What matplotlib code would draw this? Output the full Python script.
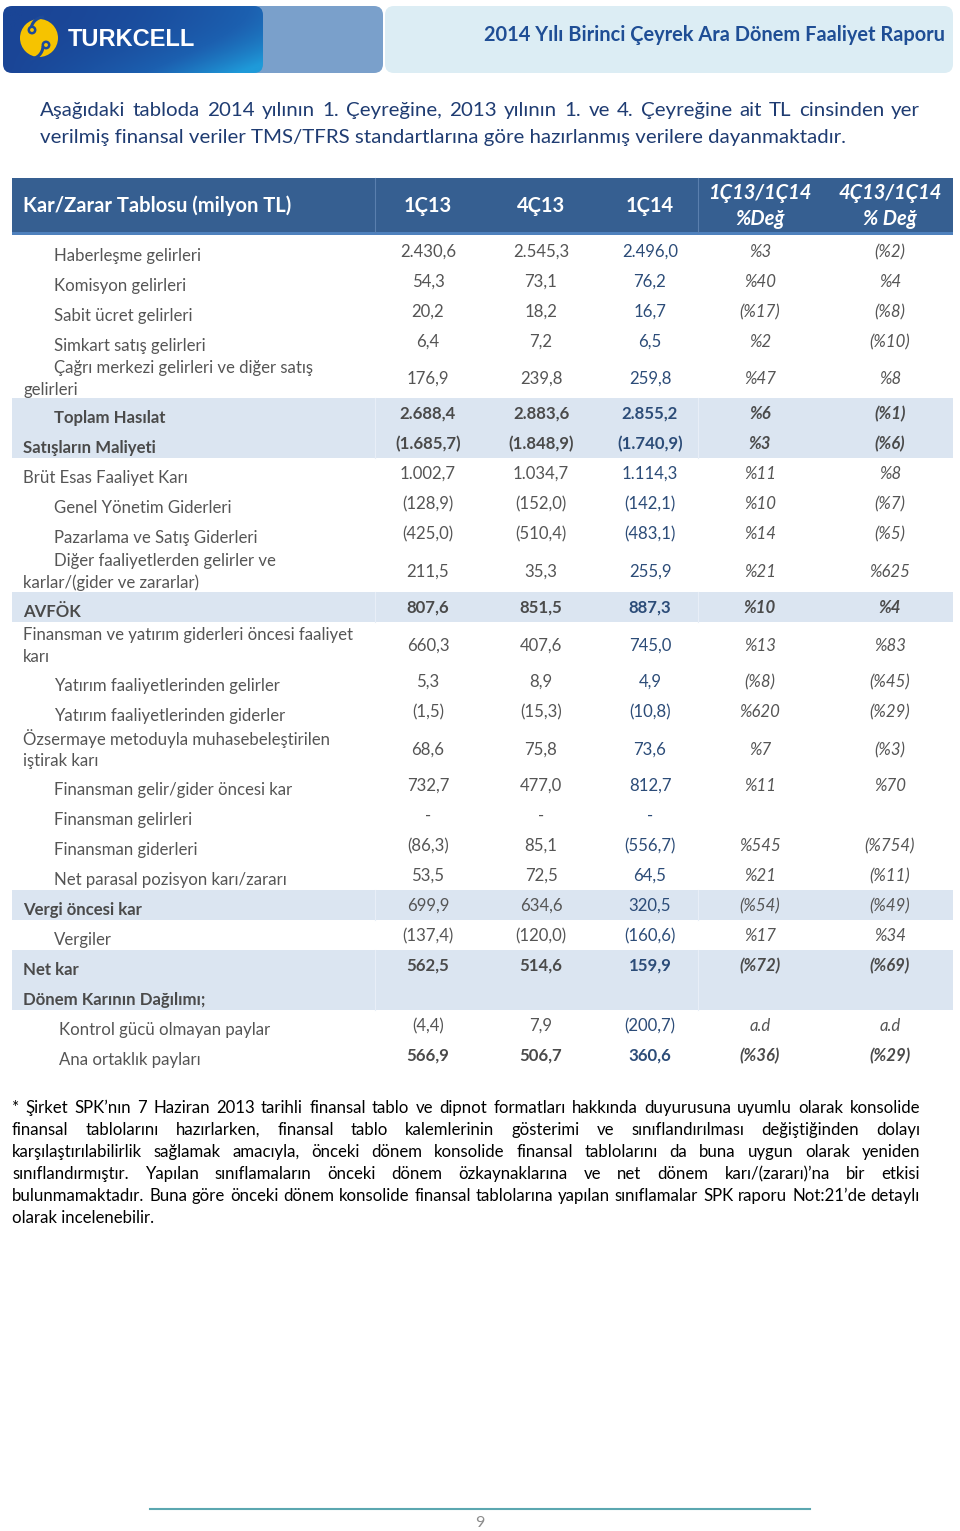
import numpy as np
import matplotlib
matplotlib.use("Agg")
import matplotlib.pyplot as plt
from matplotlib.patches import FancyBboxPatch, Rectangle, Circle, Arc
from matplotlib.colors import LinearSegmentedColormap

# --- data -------------------------------------------------------------
labels = ["Haberleşme gelirleri", "Komisyon gelirleri", "Sabit ücret gelirleri",
          "Simkart satış gelirleri", "Çağrı merkezi gelirleri ve diğer satış\ngelirleri",
          "Toplam Hasılat", "Satışların Maliyeti", "Brüt Esas Faaliyet Karı",
          "Genel Yönetim Giderleri", "Pazarlama ve Satış Giderleri",
          "Diğer faaliyetlerden gelirler ve\nkarlar/(gider ve zararlar)", "AVFÖK",
          "Finansman ve yatırım giderleri öncesi faaliyet\nkarı",
          "Yatırım faaliyetlerinden gelirler", "Yatırım faaliyetlerinden giderler",
          "Özsermaye metoduyla muhasebeleştirilen\niştirak karı",
          "Finansman gelir/gider öncesi kar", "Finansman gelirleri", "Finansman giderleri",
          "Net parasal pozisyon karı/zararı", "Vergi öncesi kar", "Vergiler", "Net kar",
          "Dönem Karının Dağılımı;", "Kontrol gücü olmayan paylar", "Ana ortaklık payları"]
q1_13 = ["2.430,6", "54,3", "20,2", "6,4", "176,9", "2.688,4", "(1.685,7)", "1.002,7",
         "(128,9)", "(425,0)", "211,5", "807,6", "660,3", "5,3", "(1,5)", "68,6", "732,7",
         "-", "(86,3)", "53,5", "699,9", "(137,4)", "562,5", "", "(4,4)", "566,9"]
q4_13 = ["2.545,3", "73,1", "18,2", "7,2", "239,8", "2.883,6", "(1.848,9)", "1.034,7",
         "(152,0)", "(510,4)", "35,3", "851,5", "407,6", "8,9", "(15,3)", "75,8", "477,0",
         "-", "85,1", "72,5", "634,6", "(120,0)", "514,6", "", "7,9", "506,7"]
q1_14 = ["2.496,0", "76,2", "16,7", "6,5", "259,8", "2.855,2", "(1.740,9)", "1.114,3",
         "(142,1)", "(483,1)", "255,9", "887,3", "745,0", "4,9", "(10,8)", "73,6", "812,7",
         "-", "(556,7)", "64,5", "320,5", "(160,6)", "159,9", "", "(200,7)", "360,6"]
chg_yoy = ["%3", "%40", "(%17)", "%2", "%47", "%6", "%3", "%11", "%10", "%14", "%21",
           "%10", "%13", "(%8)", "%620", "%7", "%11", "", "%545", "%21", "(%54)", "%17",
           "(%72)", "", "a.d", "(%36)"]
chg_qoq = ["(%2)", "%4", "(%8)", "(%10)", "%8", "(%1)", "(%6)", "%8", "(%7)", "(%5)",
           "%625", "%4", "%83", "(%45)", "(%29)", "(%3)", "%70", "", "(%754)", "(%11)",
           "(%49)", "%34", "(%69)", "", "a.d", "(%29)"]
col_heads = ["1Ç13", "4Ç13", "1Ç14", "1Ç13/1Ç14\n%Değ", "4Ç13/1Ç14\n% Değ"]

title = "2014 Yılı Birinci Çeyrek Ara Dönem Faaliyet Raporu"
intro = ["Aşağıdaki tabloda 2014 yılının 1. Çeyreğine, 2013 yılının 1. ve 4. Çeyreğine ait TL cinsinden yer",
         "verilmiş finansal veriler TMS/TFRS standartlarına göre hazırlanmış verilere dayanmaktadır."]
note = ["* Şirket SPK’nın 7 Haziran 2013 tarihli finansal tablo ve dipnot formatları hakkında duyurusuna uyumlu olarak konsolide",
        "finansal tablolarını hazırlarken, finansal tablo kalemlerinin gösterimi ve sınıflandırılması değiştiğinden dolayı",
        "karşılaştırılabilirlik sağlamak amacıyla, önceki dönem konsolide finansal tablolarını da buna uygun olarak yeniden",
        "sınıflandırmıştır. Yapılan sınıflamaların önceki dönem özkaynaklarına ve net dönem karı/(zararı)’na bir etkisi",
        "bulunmamaktadır. Buna göre önceki dönem konsolide finansal tablolarına yapılan sınıflamalar SPK raporu Not:21’de detaylı",
        "olarak incelenebilir."]

# row styling (not data)
indent = [1, 1, 1, 1, 1, 1, 0, 0, 1, 1, 1, 0, 0, 1, 1, 0, 1, 1, 1, 1, 0, 1, 0, 0, 2, 2]
bold_lab = [5, 6, 11, 20, 22, 23]
bold_val = [5, 6, 11, 22, 25]
shaded = [5, 6, 11, 20, 22, 23]
row_h = [30, 30, 30, 30, 42, 30, 30, 30, 30, 30, 44, 30, 44, 30, 30, 44,
         30, 30, 30, 30, 30, 30, 30, 30, 30, 30]

# --- figure -------------------------------------------------------------
W, H = 960, 1531
fig = plt.figure(figsize=(W / 100, H / 100), dpi=100)
ax = fig.add_axes([0, 0, 1, 1])
ax.set_xlim(0, W)
ax.set_ylim(H, 0)
ax.axis("off")
renderer = fig.canvas.get_renderer()

FONT = ["Lato", "DejaVu Sans"]
GRAY = "#555555"
BLUE_VAL = "#2c4c78"


def px(p):
    return p * 0.72


def width_of(s, **kw):
    t = ax.text(0, 0, s, **kw)
    w = t.get_window_extent(renderer).width
    t.remove()
    return w


def fit_size(s, target, **kw):
    w = width_of(s, fontsize=10, **kw)
    return 10 * target / w


def justified(line, x0, x1, y, last=False, **kw):
    words = line.split(" ")
    if last:
        ax.text(x0, y, line, ha="left", va="baseline", **kw)
        return
    widths = [width_of(w, **kw) for w in words]
    gap = (x1 - x0 - sum(widths)) / (len(words) - 1)
    x = x0
    for w, wd in zip(words, widths):
        ax.text(x, y, w, ha="left", va="baseline", **kw)
        x += wd + gap


# --- page banner ---------------------------------------------------------
light = FancyBboxPatch((385, 6), 568, 67, boxstyle="round,pad=0,rounding_size=9",
                       fc="#dcedf4", ec="none")
ax.add_patch(light)
mid = FancyBboxPatch((240, 6), 143, 67, boxstyle="round,pad=0,rounding_size=9",
                     fc="#7aa0cb", ec="none")
ax.add_patch(mid)
dark = FancyBboxPatch((3, 6), 260, 67, boxstyle="round,pad=0,rounding_size=9",
                      fc="none", ec="none")
ax.add_patch(dark)
gx, gy = np.meshgrid(np.linspace(0, 1, 200), np.linspace(0, 1, 60))
grad = np.clip(0.55 * gx ** 2 + 0.6 * gy ** 2 * gx, 0, 1)
cmap = LinearSegmentedColormap.from_list("tc", ["#1a4596", "#1c60b0", "#1f9ad9"])
im = ax.imshow(grad, extent=[3, 263, 73, 6], cmap=cmap, aspect="auto", zorder=1)
im.set_clip_path(dark)
ax.set_xlim(0, W)
ax.set_ylim(H, 0)

ax.add_patch(Circle((39, 38), 19, fc="#f6c300", ec="none", zorder=2))
ax.add_patch(Arc((30, 46), 26, 26, theta1=0, theta2=90, ec="#1d4a9a", lw=2.2, zorder=3))
ax.add_patch(Arc((44, 30), 26, 26, theta1=180, theta2=270, ec="#1d4a9a", lw=2.2, zorder=3))
ax.add_patch(Circle((32, 30), 3.2, fc="#f6c300", ec="#1d4a9a", lw=1.8, zorder=4))
ax.add_patch(Circle((46, 45), 3.2, fc="#f6c300", ec="#1d4a9a", lw=1.8, zorder=4))
tk = dict(family=["Liberation Sans", "DejaVu Sans"], weight="bold")
ax.text(68, 39, "TURKCELL", color="white", ha="left", va="center", zorder=3,
        fontsize=fit_size("TURKCELL", 127, **tk), **tk)

tt = dict(family=FONT, weight="bold")
ax.text(945, 35, title, color="#1f4e95", ha="right", va="center",
        fontsize=fit_size(title, 462, **tt), **tt)

# --- intro paragraph -----------------------------------------------------
ik = dict(family=FONT, color="#1f3c72")
isize = fit_size(intro[0], 850, **ik)
justified(intro[0], 40, 920, 116, fontsize=isize, **ik)
justified(intro[1], 40, 920, 143, last=True, fontsize=isize, **ik)

# --- table header --------------------------------------------------------
X0, X1 = 12, 953
SEP = [375, 698]
ax.add_patch(Rectangle((X0, 178), X1 - X0, 55, fc="#365f91", ec="none"))
ax.add_patch(Rectangle((X0, 232), X1 - X0, 3, fc="#4f81bd", ec="none"))
for sx in SEP:
    ax.plot([sx, sx], [178, 232], color="#5a7fae", lw=0.8)

col_x = [428, 541, 650, 760, 890]
hk = dict(family=FONT, weight="bold", color="white")
hsize = fit_size("Kar/Zarar Tablosu (milyon TL)", 269, **hk)
ax.text(23, 206, "Kar/Zarar Tablosu (milyon TL)", ha="left", va="center", fontsize=hsize, **hk)
for i, (cx, head) in enumerate(zip(col_x, col_heads)):
    lines = head.split("\n")
    style = "italic" if i >= 3 else "normal"
    if len(lines) == 1:
        ax.text(cx, 206, lines[0], ha="center", va="center", fontsize=hsize, style=style, **hk)
    else:
        ax.text(cx, 193, lines[0], ha="center", va="center", fontsize=hsize, style=style, **hk)
        ax.text(cx, 219, lines[1], ha="center", va="center", fontsize=hsize, style=style, **hk)

# --- table body ----------------------------------------------------------
tops = 236 + np.concatenate([[0], np.cumsum(row_h)[:-1]])
for i in shaded:
    ax.add_patch(Rectangle((X0, tops[i]), X1 - X0, row_h[i], fc="#dbe5f1", ec="none"))
    for sx in SEP:
        ax.plot([sx, sx], [tops[i], tops[i] + row_h[i]], color="#e8eef7", lw=0.8)

BODY = px(16.7)
ind_x = [23, 54, 59]
columns = [q1_13, q4_13, q1_14, chg_yoy, chg_qoq]
for i, lab in enumerate(labels):
    top, h = tops[i], row_h[i]
    lw_lab = "bold" if i in bold_lab else "normal"
    lcol = "#4a4a4a" if i in bold_lab else GRAY
    parts = lab.split("\n")
    if len(parts) == 1:
        ax.text(ind_x[indent[i]], top + 20, lab, ha="left", va="center", family=FONT,
                fontsize=BODY, weight=lw_lab, color=lcol)
        vy = top + 16
    else:
        cy = top + h / 2 + 2
        ax.text(ind_x[indent[i]], cy - 11, parts[0], ha="left", va="center", family=FONT,
                fontsize=BODY, weight=lw_lab, color=lcol)
        ax.text(23, cy + 11, parts[1], ha="left", va="center", family=FONT,
                fontsize=BODY, weight=lw_lab, color=lcol)
        vy = cy
    vw = "bold" if i in bold_val else "normal"
    for j, (cx, col) in enumerate(zip(col_x, columns)):
        if not col[i]:
            continue
        c = BLUE_VAL if j == 2 else ("#4a4a4a" if i in bold_val else GRAY)
        st = "italic" if j >= 3 else "normal"
        ax.text(cx, vy, col[i], ha="center", va="center", family=FONT, fontsize=BODY,
                weight=vw, style=st, color=c)

# --- footnote ------------------------------------------------------------
nk = dict(family=FONT, color="black")
nsize = fit_size(note[4], 902, **nk)
for k, line in enumerate(note):
    justified(line, 12, 920, 1113 + 22 * k, last=(k == len(note) - 1),
              fontsize=nsize, **nk)

# --- page footer ---------------------------------------------------------
ax.plot([150, 810], [1509, 1509], color="#5ba7b0", lw=1.5)
ax.text(480, 1523, "9", ha="center", va="center", family=FONT, fontsize=px(16), color="#8c8c8c")

fig.savefig("out.png", dpi=100)
